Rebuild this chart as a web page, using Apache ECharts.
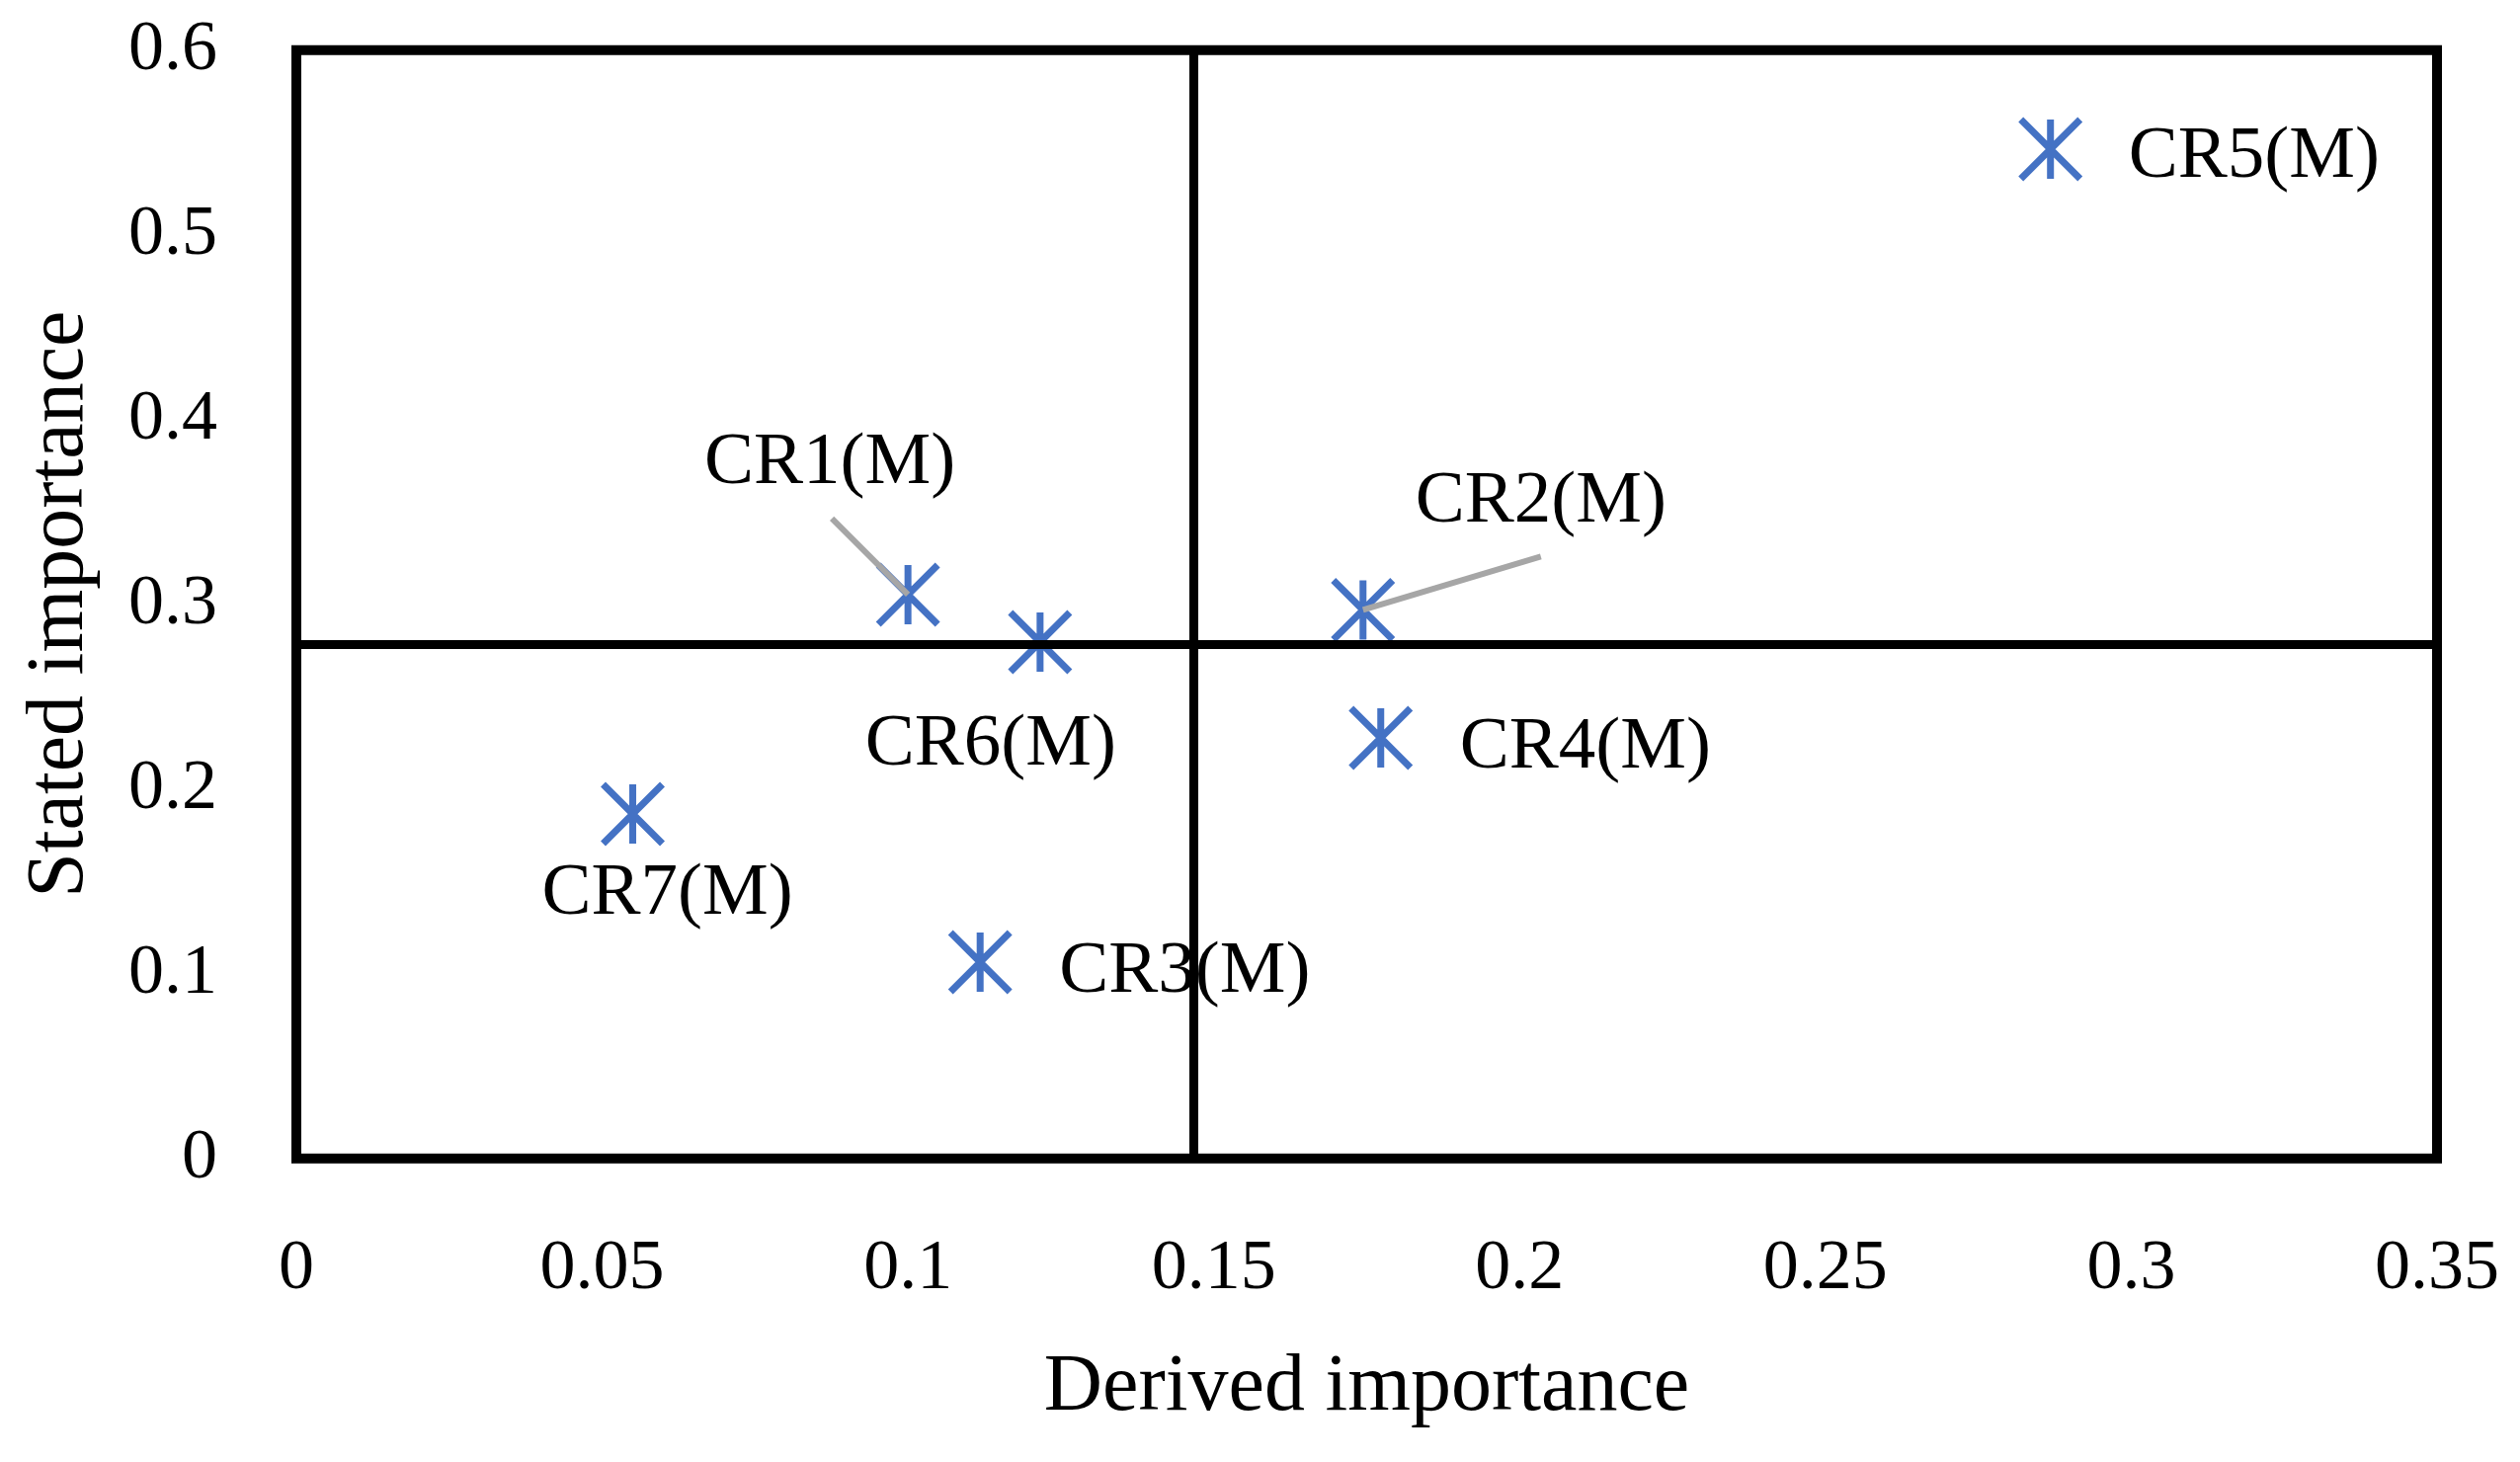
<!DOCTYPE html>
<html>
<head>
<meta charset="utf-8">
<script src="https://cdn.jsdelivr.net/npm/echarts@6/dist/echarts.min.js"></script>
<style>
html, body { margin: 0; padding: 0; background: #fff; }
#chart { width: 2551px; height: 1480px; }
</style>
</head>
<body>
<div id="chart"></div>
<script>
// ---- data ----
const names   = ['CR1(M)', 'CR2(M)', 'CR3(M)', 'CR4(M)', 'CR5(M)', 'CR6(M)', 'CR7(M)'];
const derived = [0.1000, 0.1744, 0.1118, 0.1773, 0.2868, 0.1216, 0.0550];
const stated  = [0.3052, 0.2969, 0.1063, 0.2276, 0.5464, 0.2795, 0.1865];
const meanDerived = 0.1467;   // vertical divider
const meanStated  = 0.2783;   // horizontal divider
const xTicks = { min: 0, max: 0.35, interval: 0.05 };
const yTicks = { min: 0, max: 0.6, interval: 0.1 };

// ---- label placement (pixels relative to marker centre) ----
const labelPlace = {
  'CR1(M)': { offset: [-79, -133], align: 'center' },
  'CR2(M)': { offset: [180, -109], align: 'center' },
  'CR3(M)': { offset: [80, 10], align: 'left' },
  'CR4(M)': { offset: [80, 10], align: 'left' },
  'CR5(M)': { offset: [79, 8], align: 'left' },
  'CR6(M)': { offset: [-50, 104], align: 'center' },
  'CR7(M)': { offset: [35, 81], align: 'center' }
};
const leaderEnds = {
  'CR1(M)': [-77, -77],
  'CR2(M)': [180, -54]
};

const FONT = 'Liberation Serif';
const BLUE = '#4472C4';
const STAR = 'path://M10,0L10,20M0,0L20,20M0,20L20,0';

const scatterData = names.map((n, i) => ({
  name: n,
  value: [derived[i], stated[i]],
  label: {
    offset: labelPlace[n].offset,
    align: labelPlace[n].align
  }
}));

const leaderData = names
  .map((n, i) => [derived[i], stated[i], i])
  .filter(d => leaderEnds[names[d[2]]]);

const chart = echarts.init(document.getElementById('chart'), null, { renderer: 'canvas' });

chart.setOption({
  backgroundColor: '#ffffff',
  animation: false,
  grid: {
    left: 300, right: 84, top: 50.7, bottom: 307.3,
    show: true, borderColor: '#000', borderWidth: 10, backgroundColor: 'transparent'
  },
  xAxis: {
    type: 'value',
    min: xTicks.min, max: xTicks.max, interval: xTicks.interval,
    name: 'Derived importance',
    nameLocation: 'middle',
    nameGap: 233,
    nameTextStyle: { fontFamily: FONT, fontSize: 82, color: '#000', verticalAlign: 'middle' },
    axisLine: { show: false },
    axisTick: { show: false },
    splitLine: { show: false },
    axisLabel: {
      fontFamily: FONT, fontSize: 72, color: '#000',
      margin: 112, verticalAlign: 'middle'
    }
  },
  yAxis: {
    type: 'value',
    min: yTicks.min, max: yTicks.max, interval: yTicks.interval,
    name: 'Stated importance',
    nameLocation: 'middle',
    nameGap: 239,
    nameTextStyle: { fontFamily: FONT, fontSize: 82, color: '#000', verticalAlign: 'middle' },
    axisLine: { show: false },
    axisTick: { show: false },
    splitLine: { show: false },
    axisLabel: {
      fontFamily: FONT, fontSize: 72, color: '#000', margin: 80
    }
  },
  series: [
    {
      type: 'scatter',
      z: 1,
      data: [],
      silent: true,
      markLine: {
        silent: true,
        symbol: 'none',
        precision: 6,
        label: { show: false },
        lineStyle: { color: '#000', width: 9, type: 'solid' },
        data: [ { xAxis: meanDerived }, { yAxis: meanStated } ],
        animation: false
      }
    },
    {
      type: 'scatter',
      z: 3,
      symbol: STAR,
      symbolSize: 60,
      itemStyle: { color: BLUE, borderColor: BLUE, borderWidth: 7, opacity: 1 },
      label: {
        show: true,
        position: 'inside',
        formatter: p => p.name,
        fontFamily: FONT, fontSize: 75, color: '#000',
        verticalAlign: 'middle'
      },
      data: scatterData
    },
    {
      type: 'custom',
      z: 4,
      silent: true,
      data: leaderData,
      renderItem: function (params, api) {
        const p = api.coord([api.value(0), api.value(1)]);
        const off = leaderEnds[names[api.value(2)]];
        return {
          type: 'line',
          shape: { x1: p[0], y1: p[1], x2: p[0] + off[0], y2: p[1] + off[1] },
          style: { stroke: '#A6A6A6', lineWidth: 6 }
        };
      }
    }
  ]
});
</script>
</body>
</html>
